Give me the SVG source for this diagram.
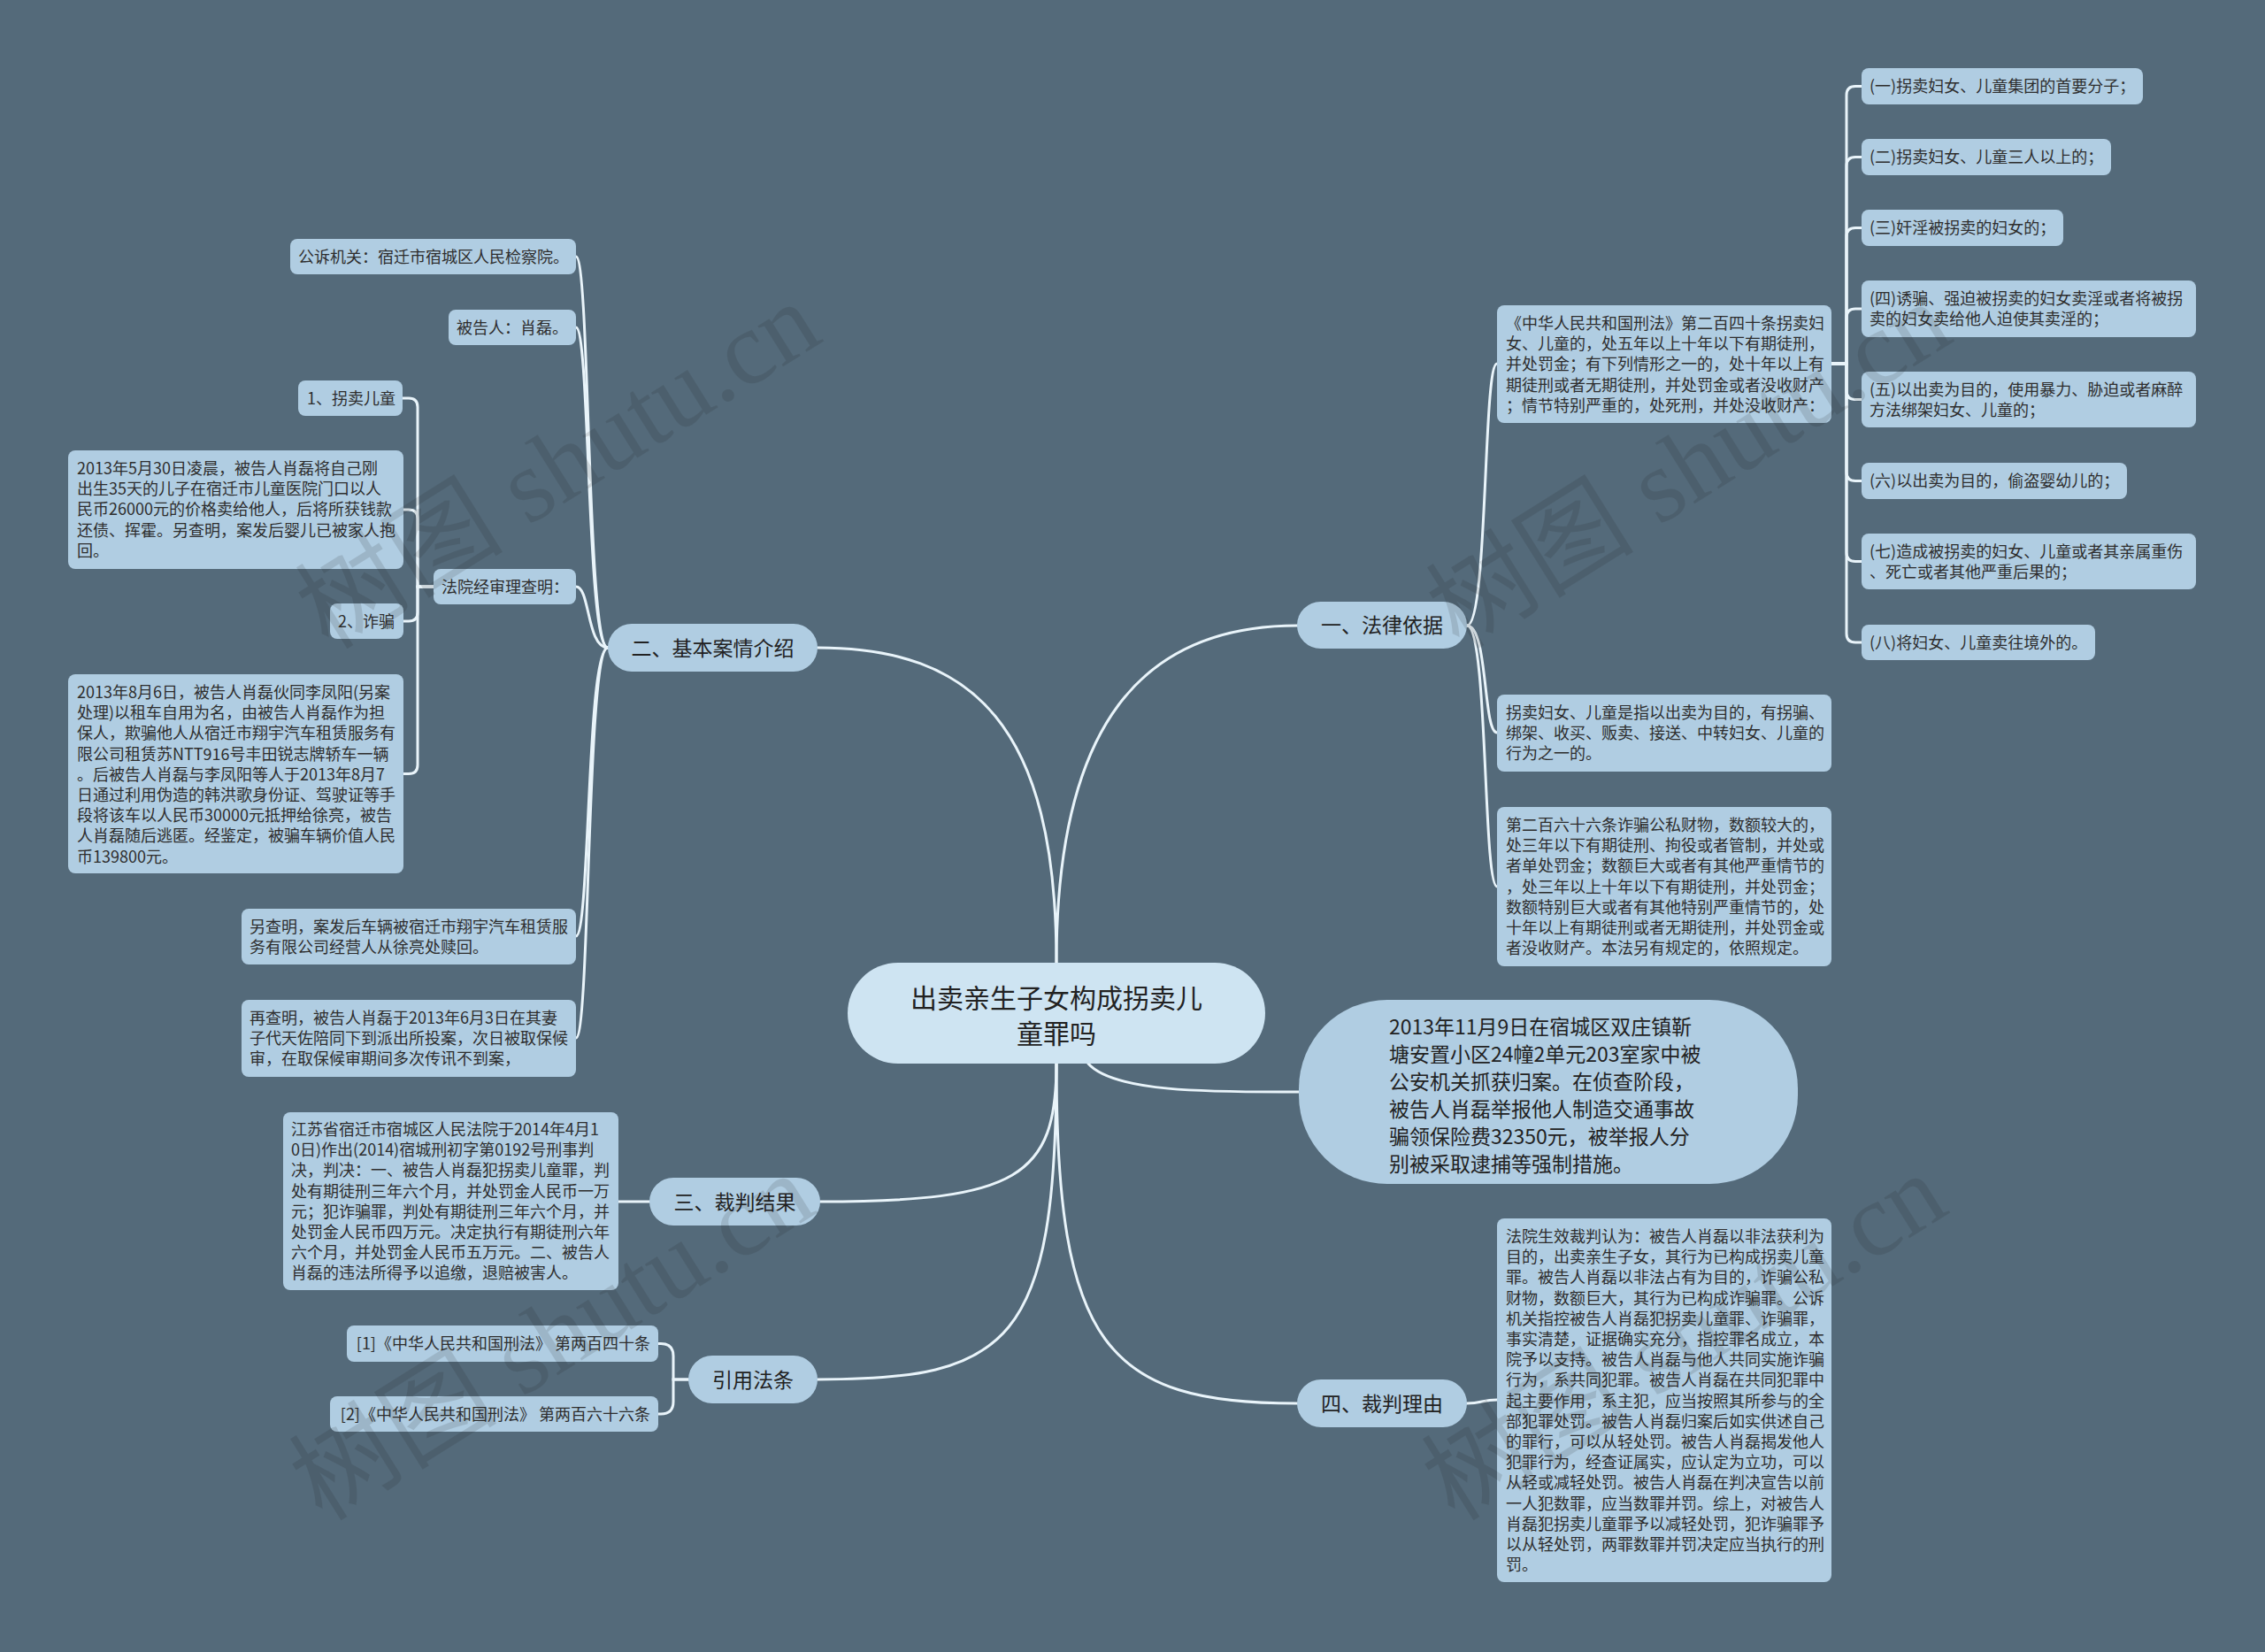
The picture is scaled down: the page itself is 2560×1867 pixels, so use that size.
<svg xmlns="http://www.w3.org/2000/svg" width="2560" height="1867" viewBox="0 0 2560 1867">
<style>
.box{fill:#b0cde2}
.main{fill:#b0cde2}
.root{fill:#cee4f2}
.t{font-family:"Noto Sans CJK SC","Noto Sans",sans-serif;font-size:18px;fill:#2e2e2e}
.m{font-family:"Noto Sans CJK SC","Noto Sans",sans-serif;font-size:23px;fill:#222}
.c{font-family:"Noto Sans CJK SC","Noto Sans",sans-serif;font-size:30px;fill:#222}
.b{font-family:"Noto Sans CJK SC","Noto Sans",sans-serif;font-size:23px;fill:#222}
.link{fill:none;stroke:#e9f4fa;stroke-width:3;stroke-linecap:round}
.wm{font-family:"Liberation Serif","Noto Sans CJK SC",serif;font-size:118px;fill:#1e1e1e;opacity:0.13}
</style>
<rect x="0" y="0" width="2560" height="1867" fill="#546a7a"/>

<g id="connectors">
<path class="link" d="M1194,1088 C1194,820 1290,707 1466,707"/>
<path class="link" d="M1194,1088 C1194,820 1100,732 924,732"/>
<path class="link" d="M1230,1202 C1260,1236 1380,1234 1468,1234"/>
<path class="link" d="M1194,1202 C1194,1330 1150,1358 927,1358"/>
<path class="link" d="M1194,1202 C1194,1520 1140,1559 924,1559"/>
<path class="link" d="M1194,1202 C1194,1520 1250,1586 1466,1586"/>
<path class="link" d="M1658,707 C1682,707 1676,411 1692,411"/>
<path class="link" d="M1658,707 C1682,707 1676,828 1692,828"/>
<path class="link" d="M1658,707 C1682,707 1676,1002 1692,1002"/>
<path class="link" d="M2070,411 H2087 V107.5 Q2087,97.5 2097,97.5 H2104"/>
<path class="link" d="M2070,411 H2087 V187.5 Q2087,177.5 2097,177.5 H2104"/>
<path class="link" d="M2070,411 H2087 V267.5 Q2087,257.5 2097,257.5 H2104"/>
<path class="link" d="M2070,411 H2087 V359 Q2087,349 2097,349 H2104"/>
<path class="link" d="M2070,411 H2087 V441.5 Q2087,451.5 2097,451.5 H2104"/>
<path class="link" d="M2070,411 H2087 V533.5 Q2087,543.5 2097,543.5 H2104"/>
<path class="link" d="M2070,411 H2087 V624.5 Q2087,634.5 2097,634.5 H2104"/>
<path class="link" d="M2070,411 H2087 V716 Q2087,726 2097,726 H2104"/>
<path class="link" d="M687,732 C663,732 667,290 651,290"/>
<path class="link" d="M687,732 C663,732 667,370 651,370"/>
<path class="link" d="M687,732 C663,732 667,663 651,663"/>
<path class="link" d="M687,732 C663,732 667,1058 651,1058"/>
<path class="link" d="M687,732 C663,732 667,1173 651,1173"/>
<path class="link" d="M490,663 H472 V460 Q472,450 462,450 H455"/>
<path class="link" d="M490,663 H472 V586 Q472,576 462,576 H456"/>
<path class="link" d="M490,663 H472 V692 Q472,702 462,702 H456"/>
<path class="link" d="M490,663 H472 V864.5 Q472,874.5 462,874.5 H456"/>
<path class="link" d="M734,1358 H699"/>
<path class="link" d="M778,1559 H761 V1532.5 Q761,1518.5 747,1518.5 H744"/>
<path class="link" d="M778,1559 H761 V1584 Q761,1598 747,1598 H744"/>
<path class="link" d="M1658,1586 C1675,1586 1675,1582 1692,1582"/>
</g>

<g id="root">
<rect class="root" x="958" y="1088" width="472" height="114" rx="57"/>
<text class="c" text-anchor="middle"><tspan x="1194" y="1139">出卖亲生子女构成拐卖儿</tspan><tspan x="1194" y="1179">童罪吗</tspan></text>
</g>

<g id="n1">
<rect class="main" x="1466" y="680" width="192" height="53" rx="26.5"/>
<text class="m" x="1562" y="715" text-anchor="middle">一、法律依据</text>
</g>
<g id="n2">
<rect class="main" x="687" y="705" width="237" height="54" rx="27"/>
<text class="m" x="805.5" y="741" text-anchor="middle">二、基本案情介绍</text>
</g>
<g id="n3">
<rect class="main" x="734" y="1331" width="193" height="54" rx="27"/>
<text class="m" x="830.5" y="1367" text-anchor="middle">三、裁判结果</text>
</g>
<g id="n5">
<rect class="main" x="778" y="1532" width="146" height="54" rx="27"/>
<text class="m" x="851" y="1568" text-anchor="middle">引用法条</text>
</g>
<g id="n4">
<rect class="main" x="1466" y="1559" width="192" height="54" rx="27"/>
<text class="m" x="1562" y="1595" text-anchor="middle">四、裁判理由</text>
</g>
<g id="n6">
<rect class="main" x="1468" y="1130" width="564" height="208" rx="100"/>
<text class="b"><tspan x="1570" y="1169">2013年11月9日在宿城区双庄镇靳</tspan><tspan x="1570" dy="31">塘安置小区24幢2单元203室家中被</tspan><tspan x="1570" dy="31">公安机关抓获归案。在侦查阶段，</tspan><tspan x="1570" dy="31">被告人肖磊举报他人制造交通事故</tspan><tspan x="1570" dy="31">骗领保险费32350元，被举报人分</tspan><tspan x="1570" dy="31">别被采取逮捕等强制措施。</tspan></text>
</g>

<g id="law240">
<rect class="box" x="1692" y="345" width="378" height="133" rx="8"/>
<text class="t"><tspan x="1702" y="372">《中华人民共和国刑法》第二百四十条拐卖妇</tspan><tspan x="1702" dy="23.2">女、儿童的，处五年以上十年以下有期徒刑，</tspan><tspan x="1702" dy="23.2">并处罚金；有下列情形之一的，处十年以上有</tspan><tspan x="1702" dy="23.2">期徒刑或者无期徒刑，并处罚金或者没收财产</tspan><tspan x="1702" dy="23.2">；情节特别严重的，处死刑，并处没收财产：</tspan></text>
</g>
<g id="def">
<rect class="box" x="1692" y="785" width="378" height="87" rx="8"/>
<text class="t"><tspan x="1702" y="812">拐卖妇女、儿童是指以出卖为目的，有拐骗、</tspan><tspan x="1702" dy="23.2">绑架、收买、贩卖、接送、中转妇女、儿童的</tspan><tspan x="1702" dy="23.2">行为之一的。</tspan></text>
</g>
<g id="law266">
<rect class="box" x="1692" y="912" width="378" height="180" rx="8"/>
<text class="t"><tspan x="1702" y="939">第二百六十六条诈骗公私财物，数额较大的，</tspan><tspan x="1702" dy="23.2">处三年以下有期徒刑、拘役或者管制，并处或</tspan><tspan x="1702" dy="23.2">者单处罚金；数额巨大或者有其他严重情节的</tspan><tspan x="1702" dy="23.2">，处三年以上十年以下有期徒刑，并处罚金；</tspan><tspan x="1702" dy="23.2">数额特别巨大或者有其他特别严重情节的，处</tspan><tspan x="1702" dy="23.2">十年以上有期徒刑或者无期徒刑，并处罚金或</tspan><tspan x="1702" dy="23.2">者没收财产。本法另有规定的，依照规定。</tspan></text>
</g>

<g id="c1"><rect class="box" x="2104" y="77" width="318" height="41" rx="8"/><text class="t" x="2113" y="104">(一)拐卖妇女、儿童集团的首要分子；</text></g>
<g id="c2"><rect class="box" x="2104" y="157" width="282" height="41" rx="8"/><text class="t" x="2113" y="184">(二)拐卖妇女、儿童三人以上的；</text></g>
<g id="c3"><rect class="box" x="2104" y="237" width="228" height="41" rx="8"/><text class="t" x="2113" y="264">(三)奸淫被拐卖的妇女的；</text></g>
<g id="c4"><rect class="box" x="2104" y="317" width="378" height="64" rx="8"/><text class="t"><tspan x="2113" y="344">(四)诱骗、强迫被拐卖的妇女卖淫或者将被拐</tspan><tspan x="2113" dy="23.2">卖的妇女卖给他人迫使其卖淫的；</tspan></text></g>
<g id="c5"><rect class="box" x="2104" y="420" width="378" height="63" rx="8"/><text class="t"><tspan x="2113" y="447">(五)以出卖为目的，使用暴力、胁迫或者麻醉</tspan><tspan x="2113" dy="23.2">方法绑架妇女、儿童的；</tspan></text></g>
<g id="c6"><rect class="box" x="2104" y="523" width="300" height="41" rx="8"/><text class="t" x="2113" y="550">(六)以出卖为目的，偷盗婴幼儿的；</text></g>
<g id="c7"><rect class="box" x="2104" y="603" width="378" height="63" rx="8"/><text class="t"><tspan x="2113" y="630">(七)造成被拐卖的妇女、儿童或者其亲属重伤</tspan><tspan x="2113" dy="23.2">、死亡或者其他严重后果的；</tspan></text></g>
<g id="c8"><rect class="box" x="2104" y="706" width="264" height="40" rx="8"/><text class="t" x="2113" y="733">(八)将妇女、儿童卖往境外的。</text></g>

<g id="reason">
<rect class="box" x="1692" y="1377" width="378" height="411" rx="8"/>
<text class="t"><tspan x="1702" y="1404">法院生效裁判认为：被告人肖磊以非法获利为</tspan><tspan x="1702" dy="23.2">目的，出卖亲生子女，其行为已构成拐卖儿童</tspan><tspan x="1702" dy="23.2">罪。被告人肖磊以非法占有为目的，诈骗公私</tspan><tspan x="1702" dy="23.2">财物，数额巨大，其行为已构成诈骗罪。公诉</tspan><tspan x="1702" dy="23.2">机关指控被告人肖磊犯拐卖儿童罪、诈骗罪，</tspan><tspan x="1702" dy="23.2">事实清楚，证据确实充分，指控罪名成立，本</tspan><tspan x="1702" dy="23.2">院予以支持。被告人肖磊与他人共同实施诈骗</tspan><tspan x="1702" dy="23.2">行为，系共同犯罪。被告人肖磊在共同犯罪中</tspan><tspan x="1702" dy="23.2">起主要作用，系主犯，应当按照其所参与的全</tspan><tspan x="1702" dy="23.2">部犯罪处罚。被告人肖磊归案后如实供述自己</tspan><tspan x="1702" dy="23.2">的罪行，可以从轻处罚。被告人肖磊揭发他人</tspan><tspan x="1702" dy="23.2">犯罪行为，经查证属实，应认定为立功，可以</tspan><tspan x="1702" dy="23.2">从轻或减轻处罚。被告人肖磊在判决宣告以前</tspan><tspan x="1702" dy="23.2">一人犯数罪，应当数罪并罚。综上，对被告人</tspan><tspan x="1702" dy="23.2">肖磊犯拐卖儿童罪予以减轻处罚，犯诈骗罪予</tspan><tspan x="1702" dy="23.2">以从轻处罚，两罪数罪并罚决定应当执行的刑</tspan><tspan x="1702" dy="23.2">罚。</tspan></text>
</g>

<g id="l1"><rect class="box" x="328" y="270" width="323" height="40" rx="8"/><text class="t" x="337" y="297">公诉机关：宿迁市宿城区人民检察院。</text></g>
<g id="l2"><rect class="box" x="507" y="350" width="144" height="40" rx="8"/><text class="t" x="516" y="377">被告人：肖磊。</text></g>
<g id="l3"><rect class="box" x="490" y="643" width="161" height="40" rx="8"/><text class="t" x="499" y="670">法院经审理查明：</text></g>
<g id="l31"><rect class="box" x="337" y="430" width="118" height="40" rx="8"/><text class="t" x="347" y="457">1、拐卖儿童</text></g>
<g id="l32">
<rect class="box" x="77" y="509" width="379" height="134" rx="8"/>
<text class="t"><tspan x="87" y="536">2013年5月30日凌晨，被告人肖磊将自己刚</tspan><tspan x="87" dy="23.2">出生35天的儿子在宿迁市儿童医院门口以人</tspan><tspan x="87" dy="23.2">民币26000元的价格卖给他人，后将所获钱款</tspan><tspan x="87" dy="23.2">还债、挥霍。另查明，案发后婴儿已被家人抱</tspan><tspan x="87" dy="23.2">回。</tspan></text>
</g>
<g id="l33"><rect class="box" x="373" y="682" width="83" height="40" rx="8"/><text class="t" x="382" y="709">2、诈骗</text></g>
<g id="l34">
<rect class="box" x="77" y="762" width="379" height="225" rx="8"/>
<text class="t"><tspan x="87" y="789">2013年8月6日，被告人肖磊伙同李凤阳(另案</tspan><tspan x="87" dy="23.2">处理)以租车自用为名，由被告人肖磊作为担</tspan><tspan x="87" dy="23.2">保人，欺骗他人从宿迁市翔宇汽车租赁服务有</tspan><tspan x="87" dy="23.2">限公司租赁苏NTT916号丰田锐志牌轿车一辆</tspan><tspan x="87" dy="23.2">。后被告人肖磊与李凤阳等人于2013年8月7</tspan><tspan x="87" dy="23.2">日通过利用伪造的韩洪歌身份证、驾驶证等手</tspan><tspan x="87" dy="23.2">段将该车以人民币30000元抵押给徐亮，被告</tspan><tspan x="87" dy="23.2">人肖磊随后逃匿。经鉴定，被骗车辆价值人民</tspan><tspan x="87" dy="23.2">币139800元。</tspan></text>
</g>
<g id="l4">
<rect class="box" x="273" y="1027" width="378" height="63" rx="8"/>
<text class="t"><tspan x="282" y="1054">另查明，案发后车辆被宿迁市翔宇汽车租赁服</tspan><tspan x="282" dy="23.2">务有限公司经营人从徐亮处赎回。</tspan></text>
</g>
<g id="l5">
<rect class="box" x="273" y="1130" width="378" height="87" rx="8"/>
<text class="t"><tspan x="282" y="1157">再查明，被告人肖磊于2013年6月3日在其妻</tspan><tspan x="282" dy="23.2">子代天佐陪同下到派出所投案，次日被取保候</tspan><tspan x="282" dy="23.2">审，在取保候审期间多次传讯不到案，</tspan></text>
</g>

<g id="verdict">
<rect class="box" x="320" y="1257" width="379" height="201" rx="8"/>
<text class="t"><tspan x="329" y="1283">江苏省宿迁市宿城区人民法院于2014年4月1</tspan><tspan x="329" dy="23.2">0日)作出(2014)宿城刑初字第0192号刑事判</tspan><tspan x="329" dy="23.2">决，判决：一、被告人肖磊犯拐卖儿童罪，判</tspan><tspan x="329" dy="23.2">处有期徒刑三年六个月，并处罚金人民币一万</tspan><tspan x="329" dy="23.2">元；犯诈骗罪，判处有期徒刑三年六个月，并</tspan><tspan x="329" dy="23.2">处罚金人民币四万元。决定执行有期徒刑六年</tspan><tspan x="329" dy="23.2">六个月，并处罚金人民币五万元。二、被告人</tspan><tspan x="329" dy="23.2">肖磊的违法所得予以追缴，退赔被害人。</tspan></text>
</g>

<g id="ref1"><rect class="box" x="392" y="1498" width="352" height="41" rx="8"/><text class="t" x="735" y="1525" text-anchor="end">[1]《中华人民共和国刑法》 第两百四十条</text></g>
<g id="ref2"><rect class="box" x="373" y="1578" width="371" height="40" rx="8"/><text class="t" x="735" y="1605" text-anchor="end">[2]《中华人民共和国刑法》 第两百六十六条</text></g>

<g id="watermarks">
<text class="wm" text-anchor="middle" transform="translate(652,560) rotate(-32)">树图 shutu.cn</text>
<text class="wm" text-anchor="middle" transform="translate(1930,560) rotate(-32)">树图 shutu.cn</text>
<text class="wm" text-anchor="middle" transform="translate(645,1545) rotate(-32)">树图 shutu.cn</text>
<text class="wm" text-anchor="middle" transform="translate(1925,1545) rotate(-32)">树图 shutu.cn</text>
</g>
</svg>
